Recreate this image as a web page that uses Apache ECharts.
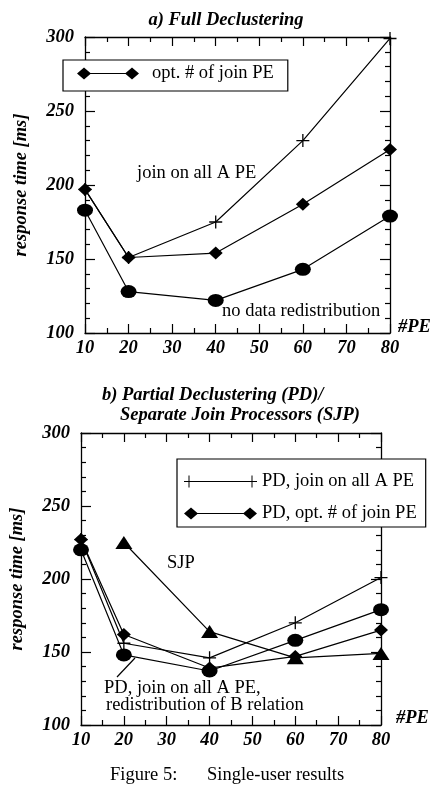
<!DOCTYPE html>
<html><head><meta charset="utf-8">
<script src="https://cdn.jsdelivr.net/npm/echarts@6/dist/echarts.min.js"></script>
<style>html,body{margin:0;padding:0;background:#fff}#c{width:435px;height:786px}</style>
</head><body><div id="c"></div>
<script>
// ---- data ----
const peValues = [10, 20, 40, 60, 80];
const xTicks = [10, 20, 30, 40, 50, 60, 70, 80];
const yTicks = [100, 150, 200, 250, 300];
// a) Full Declustering
const fdJoinAllA = [197, 151, 175, 230, 299];
const fdOptJoin = [197, 151, 154, 187, 224];
const fdNoRedist = [183, 128, 122, 143, 179];
// b) Partial Declustering / SJP
const pdJoinAllA = [227, 156, 146, 170, 201];
const pdOptJoin = [227, 162, 139, 147, 165];
const pdRedistB = [220, 148, 137, 158, 179];
const sjpPE = [20, 40, 60, 80];
const sjpVals = [225, 164, 146, 149];

const pair = (xs, ys) => xs.map((x, i) => [x, ys[i]]);
const SERIF = '"Liberation Serif", "Times New Roman", serif';
const FS = 18.5;
const BI = 'italic bold ' + FS + 'px ' + SERIF;
const RG = FS + 'px ' + SERIF;

const plusPath = 'path://M0,5.4H12V6.6H0Z M5.4,0H6.6V12H5.4Z';
const legDiamondTop = 'path://M0,6L7,0L14,6L7,12Z M7,5.4H55V6.6H7Z M48,6L55,0L62,6L55,12Z';
const legPlus = 'path://M0,5.5H73V6.5H0Z M4.5,0H5.5V12H4.5Z M67.5,0H68.5V12H67.5Z';
const legDiamond = 'path://M0,6L7,0L14,6L7,12Z M7,5.4H66V6.6H7Z M59,6L66,0L73,6L66,12Z';

function xAx(gi, pos, showLabel) {
  return {
    type: 'value', gridIndex: gi, position: pos, min: xTicks[0], max: xTicks[xTicks.length - 1], interval: 10,
    axisLine: {show: true, onZero: false, lineStyle: {color: '#000', width: 1.3}},
    axisTick: {show: true, inside: true, length: 9, lineStyle: {color: '#000', width: 1.2}},
    minorTick: {show: true, splitNumber: 2, length: 5, lineStyle: {color: '#000', width: 1.2}},
    splitLine: {show: false}, minorSplitLine: {show: false},
    axisLabel: {show: showLabel, margin: 6, color: '#000', fontSize: FS, fontStyle: 'italic', fontWeight: 'bold', fontFamily: SERIF}
  };
}
function yAx(gi, pos, showLabel) {
  const a = {
    type: 'value', gridIndex: gi, position: pos, min: yTicks[0], max: yTicks[yTicks.length - 1], interval: 50,
    axisLine: {show: true, onZero: false, lineStyle: {color: '#000', width: 1.3}},
    axisTick: {show: true, inside: true, length: 10, lineStyle: {color: '#000', width: 1.2}},
    minorTick: {show: true, splitNumber: 5, length: 5, lineStyle: {color: '#000', width: 1.2}},
    splitLine: {show: false}, minorSplitLine: {show: false},
    axisLabel: {show: showLabel, margin: 11, color: '#000', fontSize: FS, fontStyle: 'italic', fontWeight: 'bold', fontFamily: SERIF}
  };
  if (showLabel) {
    a.name = 'response time [ms]';
    a.nameLocation = 'middle';
    a.nameGap = 54;
    a.nameRotate = 90;
    a.nameTextStyle = {color: '#000', fontSize: FS, fontStyle: 'italic', fontWeight: 'bold', fontFamily: SERIF};
  }
  return a;
}
function ser(name, data, xi, yi, symbol, size) {
  return {
    type: 'line', name, data, xAxisIndex: xi, yAxisIndex: yi, symbol, symbolSize: size,
    clip: false, showSymbol: true, animation: false,
    lineStyle: {color: '#000', width: 1.2}, itemStyle: {color: '#000', borderWidth: 0}
  };
}

const chart = echarts.init(document.getElementById('c'), null, {renderer: 'canvas'});
chart.setOption({
  backgroundColor: '#fff',
  animation: false,
  grid: [
    {left: 85, right: 45, top: 37, height: 296},
    {left: 81, right: 54, top: 433, height: 292}
  ],
  xAxis: [xAx(0, 'bottom', true), xAx(0, 'top', false), xAx(1, 'bottom', true), xAx(1, 'top', false)],
  yAxis: [yAx(0, 'left', true), yAx(0, 'right', false), yAx(1, 'left', true), yAx(1, 'right', false)],
  legend: [
    {
      left: 63, top: 60, orient: 'horizontal', itemWidth: 62, itemHeight: 12,
      padding: [4, 14, 8, 14], borderColor: '#000', borderWidth: 1.2, backgroundColor: '#fff', selectedMode: false,
      itemStyle: {borderWidth: 0},
      textStyle: {color: '#000', fontSize: FS, fontFamily: SERIF, padding: [0, 0, 0, 8]},
      data: [{name: 'opt. # of join PE', icon: legDiamondTop}]
    },
    {
      left: 177, top: 459, orient: 'vertical', itemWidth: 73, itemHeight: 12, itemGap: 13,
      padding: [13, 9, 4, 7], borderColor: '#000', borderWidth: 1.2, backgroundColor: '#fff', selectedMode: false,
      itemStyle: {borderWidth: 0},
      textStyle: {color: '#000', fontSize: FS, fontFamily: SERIF},
      data: [{name: 'PD, join on all A PE', icon: legPlus}, {name: 'PD, opt. # of join PE', icon: legDiamond}]
    }
  ],
  series: [
    ser('join on all A PE', pair(peValues, fdJoinAllA), 0, 0, plusPath, 13),
    ser('opt. # of join PE', pair(peValues, fdOptJoin), 0, 0, 'diamond', [14, 13]),
    ser('no data redistribution', pair(peValues, fdNoRedist), 0, 0, 'circle', [16, 13]),
    ser('PD, join on all A PE', pair(peValues, pdJoinAllA), 2, 2, plusPath, 13),
    ser('PD, opt. # of join PE', pair(peValues, pdOptJoin), 2, 2, 'diamond', [14, 13]),
    ser('PD, join on all A PE, redistribution of B relation', pair(peValues, pdRedistB), 2, 2, 'circle', [16, 13]),
    ser('SJP', pair(sjpPE, sjpVals), 2, 2, 'triangle', [17, 13])
  ],
  graphic: [
    {type: 'text', style: {text: 'a) Full Declustering', x: 226, y: 20, textAlign: 'center', textVerticalAlign: 'middle', font: BI, fill: '#000'}},
    {type: 'text', style: {text: 'join on all A PE', x: 137, y: 173, textAlign: 'left', textVerticalAlign: 'middle', font: RG, fill: '#000'}},
    {type: 'text', style: {text: 'no data redistribution', x: 222, y: 311, textAlign: 'left', textVerticalAlign: 'middle', font: RG, fill: '#000'}},
    {type: 'text', style: {text: '#PE', x: 398, y: 327, textAlign: 'left', textVerticalAlign: 'middle', font: BI, fill: '#000'}},
    {type: 'text', style: {text: 'b) Partial Declustering (PD)/', x: 102, y: 395, textAlign: 'left', textVerticalAlign: 'middle', font: BI, fill: '#000'}},
    {type: 'text', style: {text: 'Separate Join Processors (SJP)', x: 120, y: 415, textAlign: 'left', textVerticalAlign: 'middle', font: BI, fill: '#000'}},
    {type: 'text', style: {text: 'SJP', x: 167, y: 563, textAlign: 'left', textVerticalAlign: 'middle', font: RG, fill: '#000'}},
    {type: 'text', style: {text: 'PD, join on all A PE,', x: 104, y: 688, textAlign: 'left', textVerticalAlign: 'middle', font: RG, fill: '#000'}},
    {type: 'text', style: {text: 'redistribution of B relation', x: 106, y: 705, textAlign: 'left', textVerticalAlign: 'middle', font: RG, fill: '#000'}},
    {type: 'line', shape: {x1: 117, y1: 677, x2: 135, y2: 658}, style: {stroke: '#000', lineWidth: 1.2}},
    {type: 'text', style: {text: '#PE', x: 396, y: 718, textAlign: 'left', textVerticalAlign: 'middle', font: BI, fill: '#000'}},
    {type: 'text', style: {text: 'Figure 5:', x: 110, y: 775, textAlign: 'left', textVerticalAlign: 'middle', font: RG, fill: '#000'}},
    {type: 'text', style: {text: 'Single-user results', x: 207, y: 775, textAlign: 'left', textVerticalAlign: 'middle', font: RG, fill: '#000'}}
  ]
});
</script></body></html>
